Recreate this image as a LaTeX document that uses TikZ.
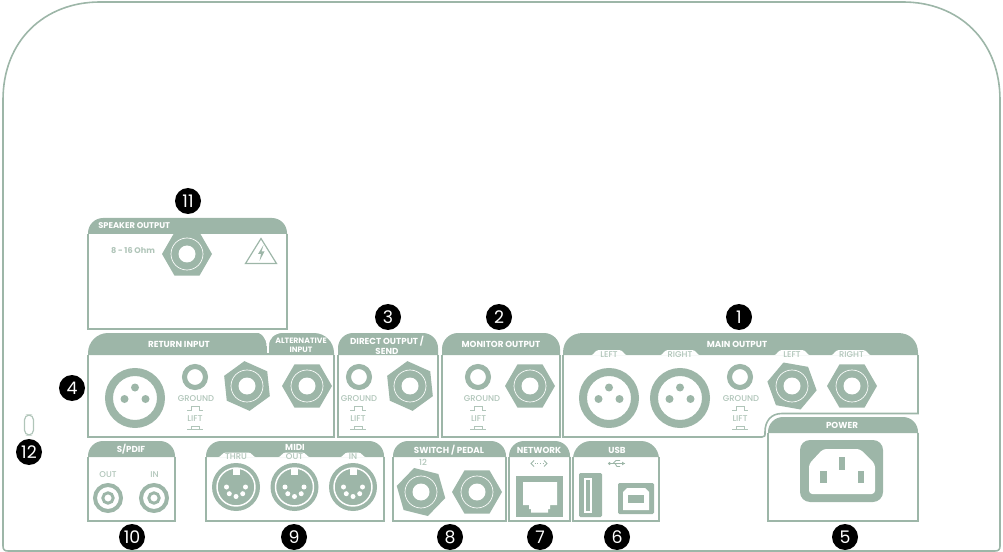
\documentclass[tikz,border=0pt]{standalone}
\usepackage{fontspec}
\setmainfont{Poppins}
\newfontfamily\medf{Poppins Medium}
\definecolor{sage}{HTML}{9DB6A8}
\definecolor{sagelt}{HTML}{B0C5B9}
\tikzset{
  hdr/.style={font=\fontsize{6.55}{7.5}\selectfont\bfseries,text=white,align=center,inner sep=0pt},
  sub/.style={font=\medf\fontsize{6.3}{7}\selectfont,text=sagelt,align=center,inner sep=0pt},
  badge/.style={circle,fill=black,text=white,minimum size=19.5pt,inner sep=0pt,font=\fontsize{13}{14}\selectfont},
  edge/.style={draw=sage,line width=1.2pt},
  thinl/.style={draw=sagelt,line width=0.55pt},
}
% panel: x1 y1 x2 y2 headerbottom radius
\newcommand\panelbox[6]{%
  \fill[sage] ({#1},{#5}) -- ({#1},{#2+#6}) .. controls ({#1},{#2+.45*#6}) and ({#1+.45*#6},{#2}) .. ({#1+#6},{#2})
    -- ({#3-#6},{#2}) .. controls ({#3-.45*#6},{#2}) and ({#3},{#2+.45*#6}) .. ({#3},{#2+#6}) -- ({#3},{#5}) -- cycle;
  \draw[edge] ({#1},{#5}) -- ({#1},{#4}) -- ({#3},{#4}) -- ({#3},{#5});
}
% tab: cx halfwidth top bottom
\newcommand\tabcut[4]{%
  \fill[white] ({#1-#2-6},{#4+.3}) .. controls ({#1-#2-3},{#4}) and ({#1-#2-2},{#3}) .. ({#1-#2+2},{#3})
    -- ({#1+#2-2},{#3}) .. controls ({#1+#2+2},{#3}) and ({#1+#2+3},{#4}) .. ({#1+#2+6},{#4+.3}) -- cycle;
}
% hex jack: x y rotation
\newcommand\hexjack[3]{%
  \fill[sage] ($({#1},{#2})+(#3:25)$) -- ($({#1},{#2})+(#3+60:25)$) -- ($({#1},{#2})+(#3+120:25)$)
    -- ($({#1},{#2})+(#3+180:25)$) -- ($({#1},{#2})+(#3+240:25)$) -- ($({#1},{#2})+(#3+300:25)$) -- cycle;
  \draw[white,line width=0.5pt] ({#1},{#2}) circle (16);
  \fill[white] ({#1},{#2}) circle (8.5);
}
\newcommand\xlrjack[2]{%
  \draw[sage,line width=6pt] ({#1},{#2}) circle (26);
  \fill[sage] ({#1},{#2-10.5}) circle (4);
  \fill[sage] ({#1-10.5},{#2+1}) circle (4);
  \fill[sage] ({#1+10.5},{#2+1}) circle (4);
}
\newcommand\smallring[2]{\draw[sage,line width=3.8pt] ({#1},{#2}) circle (10.5);}
\newcommand\groundsym[2]{%
  \draw[thinl] ({#1-8},{#2}) -- ({#1-4},{#2}) -- ({#1-4},{#2-4}) -- ({#1+4},{#2-4}) -- ({#1+4},{#2}) -- ({#1+8},{#2});
}
\newcommand\liftsym[2]{%
  \draw[thinl] ({#1-8},{#2}) -- ({#1+8},{#2});
  \draw[thinl] ({#1-4},{#2}) -- ({#1-4},{#2-3}) -- ({#1+4},{#2-3}) -- ({#1+4},{#2});
}
\newcommand\rcajack[2]{%
  \draw[sage,line width=3pt] ({#1},{#2}) circle (13);
  \draw[sage,line width=2.2pt] ({#1},{#2}) circle (5.2);
}
\newcommand\midijack[2]{%
  \fill[sage] ({#1},{#2}) circle (24);
  \draw[white,line width=1.1pt] ({#1},{#2}) circle (19);
  \fill[white] ({#1-3.5},{#2-19}) rectangle ({#1+3.5},{#2-12});
  \foreach \a in {180,225,270,315,0}{\fill[white] ($({#1},{#2})+(\a+180:9.5)$) circle (2.5);}
}
\usetikzlibrary{calc}
\begin{document}
\begin{tikzpicture}[x=0.75pt,y=-0.75pt]
\useasboundingbox (0,0) rectangle (1003,552);
% outer enclosure
\draw[edge] (3,100) .. controls (3,40) and (45,2) .. (100,2) -- (903,2) .. controls (958,2) and (1000,40) .. (1000,100)
  -- (1000,546) .. controls (1000,549.5) and (998.5,551) .. (995,551) -- (8,551) .. controls (4.5,551) and (3,549.5) .. (3,546) -- cycle;
% lock slot
\draw[draw=sagelt,line width=0.9pt,rounded corners=3.6pt] (24.5,415) rectangle (33.5,435);
% panels
\panelbox{88}{218}{287}{329}{234}{15}
\panelbox{88}{333}{334}{437}{355}{20}
\fill[white] (266.5,331) rectangle (269,353);
\fill[white] (252,331.5) .. controls (262,332) and (266.5,338) .. (266.5,346) -- (269,346) .. controls (269,338) and (274,333.5) .. (284,332.5) -- cycle;
\panelbox{338}{333}{438}{437}{355}{15}
\panelbox{442}{333}{560}{437}{355}{16}
% main output with its notch
\fill[sage] (563,355) -- (563,353) .. controls (563,341) and (571,333) .. (583,333) -- (898,333) .. controls (910,333) and (918,341) .. (918,353) -- (918,355) -- cycle;
\draw[edge] (563,355) -- (563,437) -- (762,437) .. controls (765,437) and (765,436) .. (765,432) .. controls (765,421) and (771,413.5) .. (782,413.5) -- (918,413.5) -- (918,355);
\panelbox{768}{417}{918}{521}{433}{15}
\panelbox{88}{441}{175}{521}{457}{15}
\panelbox{206}{441}{384}{521}{457}{15}
\panelbox{393}{441}{506}{521}{457}{15}
\panelbox{509}{441}{570}{521}{457}{15}
\panelbox{573}{441}{659}{521}{457}{18}
% tabs
\tabcut{609}{12}{350}{355}
\tabcut{680}{14}{350}{355}
\tabcut{792}{12}{350}{355}
\tabcut{851}{14}{350}{355}
\tabcut{237}{13}{452.5}{457}
\tabcut{294}{10}{452.5}{457}
\tabcut{353}{7}{452.5}{457}
% header labels
\node[hdr,anchor=west,font=\fontsize{6.25}{7}\selectfont\bfseries] (tSpeaker) at (98,226) {SPEAKER OUTPUT};
\node[hdr] (tReturn) at (179,344) {RETURN INPUT};
\node[hdr,font=\fontsize{5.8}{6.75}\selectfont\bfseries] (tAlt) at (301,345) {ALTERNATIVE\\INPUT};
\node[hdr] (tDirect) at (387,345) {DIRECT OUTPUT /\\SEND};
\node[hdr] (tMonitor) at (501,344) {MONITOR OUTPUT};
\node[hdr] (tMain) at (737,344) {MAIN OUTPUT};
\node[hdr] (tPower) at (842,425.5) {POWER};
\node[hdr] (tSpdif) at (131,449.5) {S/PDIF};
\node[hdr] (tMidi) at (295,447) {MIDI};
\node[hdr] (tSwitch) at (449,450) {SWITCH / PEDAL};
\node[hdr] (tNetwork) at (539,450) {NETWORK};
\node[hdr] (tUsb) at (617,450) {USB};
% small labels
\node[sub,font=\fontsize{6.1}{7}\selectfont\bfseries] (tOhm) at (133,251) {8 - 16 Ohm};
\node[sub] (tLeftA) at (609,354.5) {LEFT};
\node[sub] (tRightA) at (680,354.5) {RIGHT};
\node[sub] (tLeftB) at (792,354.5) {LEFT};
\node[sub] (tRightB) at (851.5,354.5) {RIGHT};
\node[sub] (tOut) at (108,475) {OUT};
\node[sub] (tIn) at (154.5,475) {IN};
\node[sub] (tThru) at (236,456.5) {THRU};
\node[sub] (tMOut) at (294.5,456.5) {OUT};
\node[sub] (tMIn) at (353,456.5) {IN};
\node[sub] (tTwelve) at (423,462) {12};
\node[sub] (tG1) at (196,399) {GROUND};
\node[sub] (tL1) at (195,419) {LIFT};
\node[sub] (tG2) at (359,399) {GROUND};
\node[sub] (tL2) at (358,419) {LIFT};
\node[sub] (tG3) at (482,399) {GROUND};
\node[sub] (tL3) at (478.5,419) {LIFT};
\node[sub] (tG4) at (741,399) {GROUND};
\node[sub] (tL4) at (740,419) {LIFT};
\groundsym{195}{410}\liftsym{195}{429}
\groundsym{358}{410}\liftsym{358}{429}
\groundsym{478}{410}\liftsym{478}{429}
\groundsym{740}{410}\liftsym{740}{429}
% jacks
\hexjack{187}{254}{0}
\hexjack{247}{386}{24}
\hexjack{307}{386}{0}
\hexjack{410}{386}{24}
\hexjack{530}{386}{0}
\hexjack{792}{386}{10}
\hexjack{852}{386}{0}
\hexjack{421}{492}{14}
\hexjack{477}{492}{0}
\xlrjack{135}{398}
\xlrjack{609}{398}
\xlrjack{680}{398}
\smallring{195}{377}
\smallring{359}{377}
\smallring{478}{377}
\smallring{740}{377}
\rcajack{108}{498}
\rcajack{154}{498}
\midijack{236}{487}
\midijack{294.5}{487}
\midijack{353}{487}
% warning triangle
\draw[draw=sage,line width=0.9pt,line join=miter] (261,238.5) -- (276.5,263.5) -- (245.5,263.5) -- cycle;
\fill[sage] (263.5,245) -- (258,254) -- (261,254) -- (259.5,261) -- (264.5,251.5) -- (261.5,251.5) -- cycle;
% power inlet
\fill[sage,rounded corners=7.5pt] (800,440) rectangle (883,502);
\fill[white,rounded corners=2.5pt] (809,494) -- (809,464) -- (823,449) -- (860,449) -- (875,464) -- (875,494) -- cycle;
\fill[sage] (839,457) rectangle (845,470);
\fill[sage] (820,470.5) rectangle (826.5,483);
\fill[sage] (857.5,470.5) rectangle (864,483);
% network
\fill[sage] (516,476) rectangle (563,517);
\fill[white] (523,482) -- (557,482) -- (557,505) -- (550,505) -- (550,509) -- (548,509) -- (548,512.5) -- (531,512.5) -- (531,509) -- (529,509) -- (529,505) -- (523,505) -- cycle;
\draw[draw=sage,line width=0.6pt] (534,460.5) -- (531,463.5) -- (534,466.5) (544,460.5) -- (547,463.5) -- (544,466.5);
\draw[draw=sage,line width=0.7pt,dash pattern=on 0.8pt off 1.2pt] (534.5,463.5) -- (544,463.5);
% usb
\fill[sage,rounded corners=1pt] (579,473) rectangle (602,517);
\fill[white] (583.5,477.5) rectangle (592,512.5);
\fill[sage] (585.5,479.5) rectangle (590,510.5);
\fill[sage,rounded corners=1pt] (618,483) rectangle (654,514);
\fill[white] (623,510) -- (623,492) -- (627,488) -- (645,488) -- (649,492) -- (649,510) -- cycle;
\fill[sage] (628,495) rectangle (644,503);
\fill[sage] (609.5,463.5) circle (1.7);
\draw[sage,line width=0.7pt] (609.5,463.5) -- (625,463.5);
\draw[sage,line width=0.7pt] (613,463.5) -- (616,460.5) -- (620,460.5) (615,463.5) -- (617,466.5) -- (620,466.5);
\fill[sage] (625,463.5) -- (622,461.7) -- (622,465.3) -- cycle;
% badges
\node[badge] (b1) at (739,317) {1};
\node[badge] (b2) at (499,317) {2};
\node[badge] (b3) at (388,317) {3};
\node[badge] (b4) at (72,388) {4};
\node[badge] (b5) at (845,537) {5};
\node[badge] (b6) at (617,537) {6};
\node[badge] (b7) at (540,537) {7};
\node[badge] (b8) at (450,537) {8};
\node[badge] (b9) at (294,537) {9};
\node[badge] (b10) at (132,537) {10};
\node[badge] (b11) at (188,201) {11};
\node[badge] (b12) at (29,452) {12};
\end{tikzpicture}
\end{document}
